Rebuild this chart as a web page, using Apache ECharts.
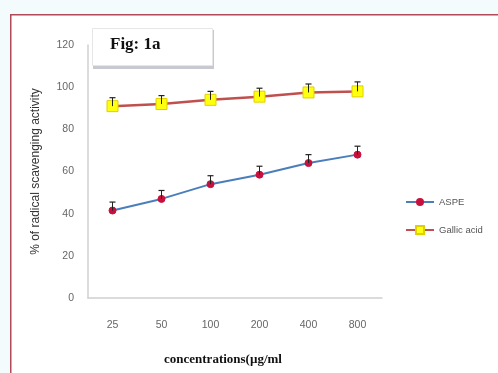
<!DOCTYPE html>
<html><head><meta charset="utf-8">
<script src="https://cdn.jsdelivr.net/npm/echarts@6/dist/echarts.min.js"></script>
<style>html,body{margin:0;padding:0;background:#f3fbfd;}#c{width:498px;height:373px;}</style>
</head><body><div id="c"></div>
<script>
const categories = ['25','50','100','200','400','800'];
const aspe = [41.5, 47, 54, 58.5, 64, 68];
const aspeErr = [4, 4, 4, 4, 4, 4];
const gallic = [91, 92, 94, 95.5, 97.5, 98];
const gallicErr = [4, 4, 4, 4, 4, 4.5];
const yTicks = [0, 20, 40, 60, 80, 100, 120];

function errData(vals, errs){ return vals.map((v,i)=>[i, v, v+errs[i]]); }
function errRender(params, api){
  const x = api.value(0);
  const p0 = api.coord([x, api.value(1)]);
  const p1 = api.coord([x, api.value(2)]);
  const w = 3;
  return {type:'group', children:[
    {type:'line', shape:{x1:p0[0],y1:p0[1],x2:p1[0],y2:p1[1]}, style:{stroke:'#222',lineWidth:1}},
    {type:'line', shape:{x1:p1[0]-w,y1:p1[1],x2:p1[0]+w,y2:p1[1]}, style:{stroke:'#222',lineWidth:1.2}}
  ]};
}

const chart = echarts.init(document.getElementById('c'));
chart.setOption({
  backgroundColor: '#f3fbfd',
  animation: false,
  grid: {left: 88, top: 45, right: 116, bottom: 75, containLabel: false},
  xAxis: {
    type: 'category', data: categories, boundaryGap: true,
    axisLine: {lineStyle: {color: '#d0d0d0', width: 1.5}},
    axisTick: {show: false},
    axisLabel: {color: '#666', fontSize: 10.5, fontFamily: 'Liberation Sans', margin: 22},
    name: 'concentrations(µg/ml', nameLocation: 'middle', nameGap: 55,
    nameTextStyle: {color: '#111', fontSize: 13, fontWeight: 'bold', fontFamily: 'Liberation Serif', padding: [0, 24, 0, 0]}
  },
  yAxis: {
    type: 'value', min: yTicks[0], max: yTicks[yTicks.length-1], interval: 20,
    splitLine: {show: false},
    axisLine: {show: true, lineStyle: {color: '#d0d0d0', width: 1.5}},
    axisTick: {show: false},
    axisLabel: {color: '#666', fontSize: 10.5, fontFamily: 'Liberation Sans', margin: 14},
    name: '% of radical scavenging activity', nameLocation: 'middle', nameGap: 46,
    nameTextStyle: {color: '#333', fontSize: 12, fontFamily: 'Liberation Sans'}
  },
  legend: {
    orient: 'vertical', left: 400, top: 192, itemGap: 18, itemWidth: 28, itemHeight: 10,
    textStyle: {color: '#555', fontSize: 9.5, fontFamily: 'Liberation Sans'},
    data: ['ASPE', 'Gallic acid']
  },
  series: [
    {name: 'ASPE', type: 'line', data: aspe, symbol: 'circle', symbolSize: 7,
     lineStyle: {color: '#4a7ebb', width: 2}, itemStyle: {color: '#c8103c', borderColor: '#c8103c'}, z: 3},
    {name: 'Gallic acid', type: 'line', data: gallic, symbol: 'rect', symbolSize: 11,
     lineStyle: {color: '#c0504d', width: 2.5}, itemStyle: {color: '#ffff10', borderColor: '#e0d000', borderWidth: 1}, z: 3},
    {type: 'custom', data: errData(aspe, aspeErr), renderItem: errRender, z: 4, silent: true},
    {type: 'custom', data: errData(gallic, gallicErr), renderItem: errRender, z: 4, silent: true}
  ],
  graphic: [
    {type: 'rect', left: 10, top: 14, shape: {width: 500, height: 380}, z: -10,
     style: {fill: '#ffffff', stroke: '#b04a58', lineWidth: 1.5}},
    {type: 'rect', left: 93, top: 30, shape: {width: 121, height: 39}, z: 10,
     style: {fill: '#c8c8d0'}},
    {type: 'rect', left: 92, top: 28, shape: {width: 120, height: 37}, z: 11,
     style: {fill: '#ffffff', stroke: '#e6e6e6', lineWidth: 1}},
    {type: 'text', left: 110, top: 36, z: 12,
     style: {text: 'Fig: 1a', font: 'bold 17px "Liberation Serif"', fill: '#111'}}
  ]
});
</script></body></html>
